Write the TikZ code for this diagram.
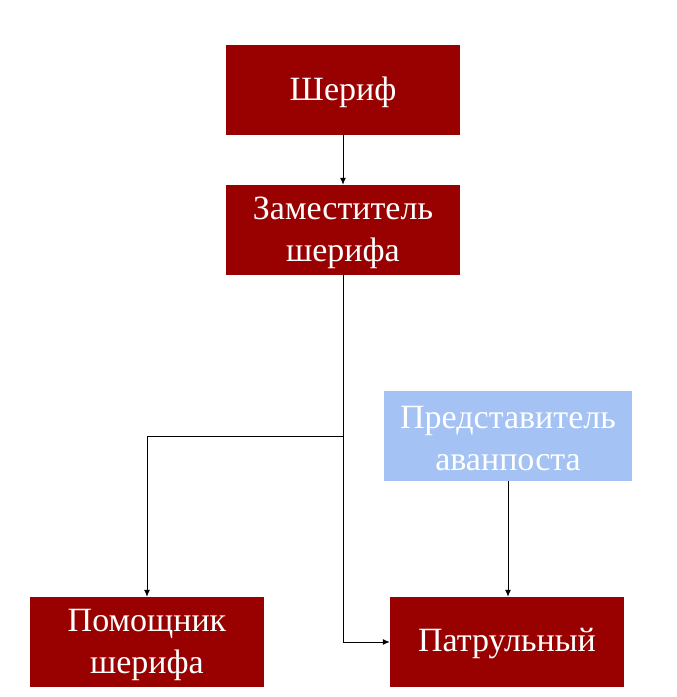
\documentclass[tikz,border=0pt]{standalone}
\usepackage{fontspec}
\setmainfont{Liberation Serif}
\usetikzlibrary{arrows.meta}
\definecolor{boxred}{HTML}{990000}
\definecolor{boxblue}{HTML}{A4C2F4}
\begin{document}
\begin{tikzpicture}[x=1pt,y=-1pt,
  rolebox/.style={fill=boxred,minimum width=234pt,minimum height=90pt,inner sep=0pt},
  bluebox/.style={rolebox,fill=boxblue,minimum width=248pt},
  lbl/.style={text=white,align=center,font=\fontsize{34}{42}\selectfont,inner sep=0pt},
  conn/.style={draw=black,line width=1pt,-{Latex[length=7pt,width=6pt]}}]
\useasboundingbox (0,0) rectangle (677,697);
\node[rolebox] (sheriff) at (343,90) {};
\node[lbl] (sheriffT) at (343,92) {Шериф};
\node[rolebox] (deputy) at (343,230) {};
\node[lbl] (deputyT) at (343,233) {Заместитель\\шерифа};
\node[bluebox] (rep) at (508,436) {};
\node[lbl] (repT) at (508,439) {Представитель\\аванпоста};
\node[rolebox] (helper) at (147,642) {};
\node[lbl] (helperT) at (147,645) {Помощник\\шерифа};
\node[rolebox] (patrol) at (507,642) {};
\node[lbl] (patrolT) at (507,644) {Патрульный};
\coordinate (split) at (343,436);
\draw[conn] (sheriff) -- (deputy);
\draw[conn] (deputy.south) -- (split) -| (helper.north);
\draw[conn] (split) |- (patrol.west);
\draw[conn] (rep) -- (rep|-patrol.north);
\end{tikzpicture}
\end{document}
